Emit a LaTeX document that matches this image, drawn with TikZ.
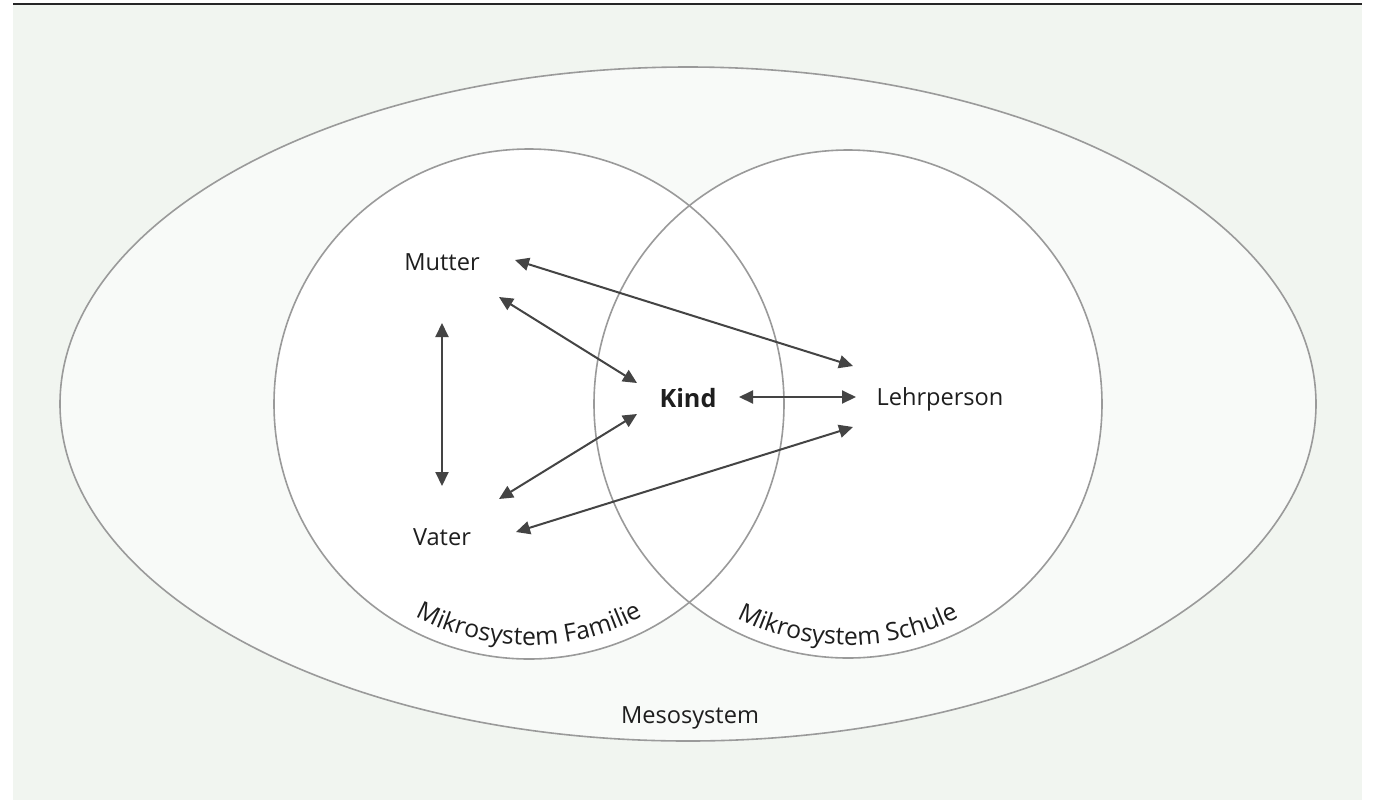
\documentclass[tikz,border=0pt]{standalone}
\usepackage{fontspec}
\setmainfont{Open Sans}
\usetikzlibrary{arrows.meta,decorations.text,calc}
\definecolor{bg}{HTML}{F1F5F0}
\definecolor{ell}{HTML}{F8FAF8}
\definecolor{ring}{HTML}{9A9A9A}
\definecolor{arr}{HTML}{444444}
\definecolor{txt}{HTML}{1E1E1E}
\begin{document}
\begin{tikzpicture}[x=0.5pt,y=-0.5pt,
  ringline/.style={draw=ring,line width=0.8pt},
  link/.style={draw=arr,line width=1pt,{Triangle[length=7pt,width=6.5pt]}-{Triangle[length=7pt,width=6.5pt]}},
  lbl/.style={text=txt,font=\fontsize{11.8}{14}\selectfont,inner sep=0pt},
  arclbl/.style={decorate,decoration={text along path,text align=center,text={|\color{txt}\fontsize{12.4}{14}\selectfont|#1}}}]
\useasboundingbox (0,0) rectangle (1373,800);
\fill[white] (0,0) rectangle (1373,800);
\fill[bg] (13,5) rectangle (1362,800);
\draw[line width=1pt,color=black!85] (13,4) -- (1362,4);
% systems
\coordinate (meso) at (688,404);
\coordinate (fam) at (529,404);
\coordinate (sch) at (848,404);
\path[ringline,fill=ell] (meso) ellipse [x radius=314pt,y radius=168.5pt];
\fill[white] (fam) circle [radius=127.5pt];
\fill[white] (sch) circle [radius=127pt];
\draw[ringline] (fam) circle [radius=127.5pt];
\draw[ringline] (sch) circle [radius=127pt];
% curved labels
\path[arclbl={Mikrosystem Familie}] ($(fam)+(200:120.5pt)$) arc[start angle=200,end angle=340,radius=120.5pt];
\path[arclbl={Mikrosystem Schule}] ($(sch)+(200:120.5pt)$) arc[start angle=200,end angle=340,radius=120.5pt];
% people
\node[lbl] (mutter) at (442,262) {Mutter};
\node[lbl] (vater) at (442,537) {Vater};
\node[lbl,font=\bfseries\fontsize{12.6}{14}\selectfont] (kind) at (688,398) {Kind};
\node[lbl] (lehr) at (940,399) {Lehrperson};
\node[lbl] (mesolbl) at (690,718) {Mesosystem};
% arrow ends
\coordinate (mL) at (515,260); \coordinate (lM) at (853,366);
\coordinate (mK) at (499,297); \coordinate (kM) at (637,383);
\coordinate (mV) at (442,323); \coordinate (vM) at (442,486);
\coordinate (vK) at (499,499); \coordinate (kV) at (637,414);
\coordinate (vL) at (516,532); \coordinate (lV) at (853,427);
\coordinate (kL) at (739,397); \coordinate (lK) at (856,397);
\draw[link] (mL) -- (lM);
\draw[link] (mK) -- (kM);
\draw[link] (mV) -- (vM);
\draw[link] (vK) -- (kV);
\draw[link] (vL) -- (lV);
\draw[link] (kL) -- (lK);
\end{tikzpicture}
\end{document}
